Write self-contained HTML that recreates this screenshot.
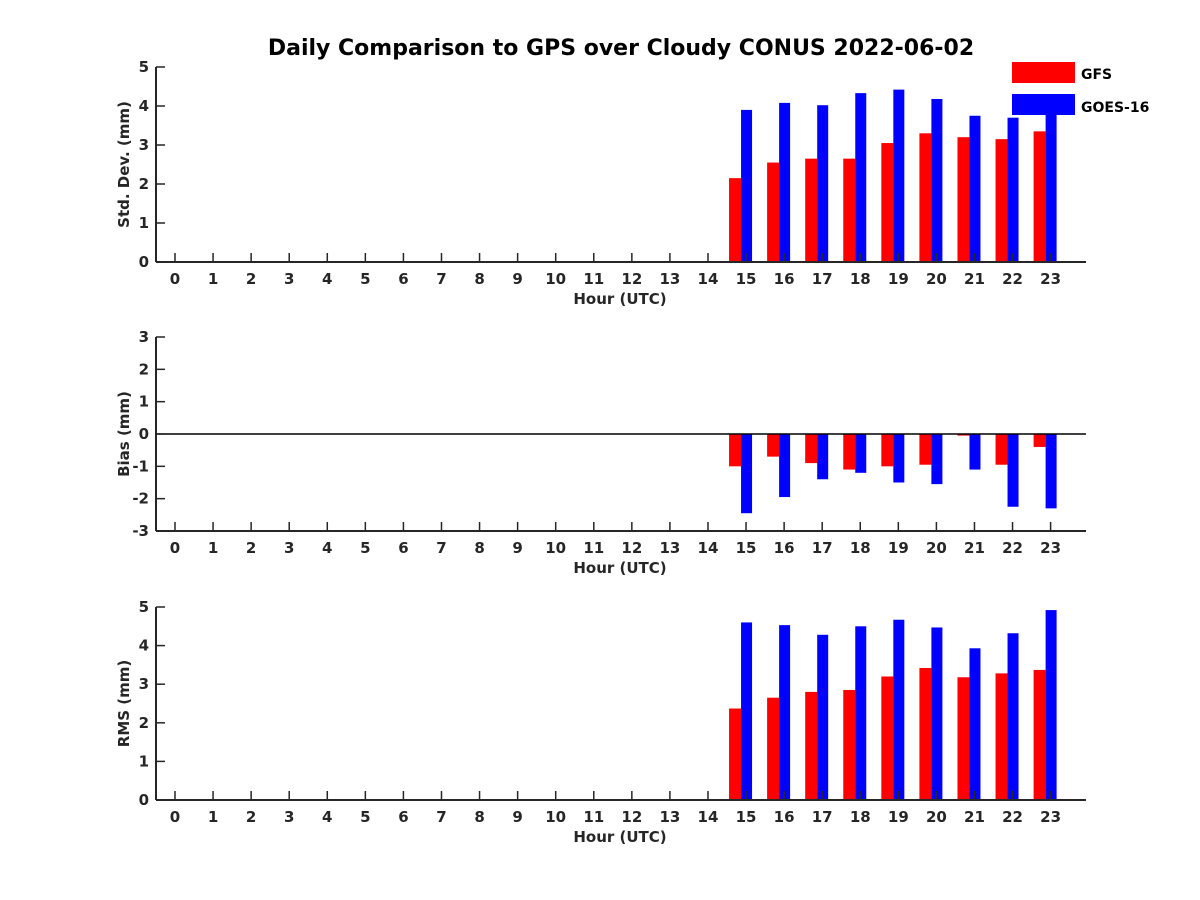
<!DOCTYPE html>
<html><head><meta charset="utf-8"><style>body{margin:0;background:#fff}svg{display:block;font-family:"DejaVu Sans","Liberation Sans",sans-serif}</style></head>
<body>
<svg id="c" width="1200" height="900">
<text x="621" y="55" text-anchor="middle" font-size="22" font-weight="bold" fill="#000">Daily Comparison to GPS over Cloudy CONUS 2022-06-02</text>
</svg>
<script>
const hours=[15,16,17,18,19,20,21,22,23];
const stdGFS=[2.15,2.55,2.65,2.65,3.05,3.3,3.2,3.15,3.35];
const stdGOES=[3.9,4.08,4.02,4.33,4.42,4.18,3.75,3.7,4.3];
const biasGFS=[-1.0,-0.7,-0.9,-1.1,-1.0,-0.95,-0.05,-0.95,-0.4];
const biasGOES=[-2.45,-1.95,-1.4,-1.2,-1.5,-1.55,-1.1,-2.25,-2.3];
const rmsGFS=[2.37,2.65,2.8,2.85,3.2,3.42,3.18,3.28,3.37];
const rmsGOES=[4.6,4.53,4.28,4.5,4.67,4.47,3.93,4.32,4.92];
const xTicks=[...Array(24).keys()];
const stdTicks=[0,1,2,3,4,5],biasTicks=[-3,-2,-1,0,1,2,3],rmsTicks=[0,1,2,3,4,5];
const svg=document.getElementById('c');const NS='http://www.w3.org/2000/svg';
function mk(t,a,p){const e=document.createElementNS(NS,t);for(const k in a)e.setAttribute(k,a[k]);(p||svg).appendChild(e);return e;}
const X=h=>175+h*38.07;
const L=156,R=1086;
function panel(name,top,bot,min,max,ticks,ylab,g1,g2,zeroLine){
  const g=mk('g',{});
  
  
  const Y=v=>bot-(v-min)/(max-min)*(bot-top);
  const base=zeroLine?Y(0):bot;
  hours.forEach((h,i)=>{
    const y1=Y(g1[i]);const r=mk('rect',{x:X(h)-17,y:Math.min(y1,base),width:12,height:Math.abs(base-y1),fill:'#ff0000'},g);
    
    
    const y2=Y(g2[i]);const b=mk('rect',{x:X(h)-5,y:Math.min(y2,base),width:11,height:Math.abs(base-y2),fill:'#0000ff'},g);
    
    
  });
  mk('line',{x1:L,y1:bot,x2:R,y2:bot,stroke:'#262626','stroke-width':2},g);
  mk('line',{x1:L,y1:top,x2:L,y2:bot,stroke:'#262626','stroke-width':2},g);
  if(zeroLine)mk('line',{x1:L,y1:Y(0),x2:R,y2:Y(0),stroke:'#000','stroke-width':1.5},g);
  xTicks.forEach(h=>{
    mk('line',{x1:X(h),y1:bot,x2:X(h),y2:bot-9,stroke:'#262626','stroke-width':1.5},g);
    const t=mk('text',{x:X(h),y:bot+22,'text-anchor':'middle','font-size':15,'font-weight':'bold',fill:'#262626'},g);t.textContent=h;
  });
  ticks.forEach(v=>{
    mk('line',{x1:L,y1:Y(v),x2:L+9,y2:Y(v),stroke:'#262626','stroke-width':1.5},g);
    const t=mk('text',{x:L-7,y:Y(v)+5,'text-anchor':'end','font-size':15,'font-weight':'bold',fill:'#262626'},g);t.textContent=v;
  });
  const xl=mk('text',{x:620,y:bot+42,'text-anchor':'middle','font-size':15,'font-weight':'bold',fill:'#262626'},g);xl.textContent='Hour (UTC)';
  const cy=(top+bot)/2;
  const yl=mk('text',{x:0,y:0,transform:`translate(129,${cy}) rotate(-90)`,'text-anchor':'middle','font-size':15,'font-weight':'bold',fill:'#262626'},g);yl.textContent=ylab;
}
panel('std',67,262,0,5,stdTicks,'Std. Dev. (mm)',stdGFS,stdGOES,false);
panel('bias',337,531,-3,3,biasTicks,'Bias (mm)',biasGFS,biasGOES,true);
panel('rms',607,800,0,5,rmsTicks,'RMS (mm)',rmsGFS,rmsGOES,false);
const lg=mk('g',{});


mk('rect',{x:1012,y:62,width:63,height:21,fill:'#ff0000'},lg);
mk('rect',{x:1012,y:94,width:63,height:21,fill:'#0000ff'},lg);
const t1=mk('text',{x:1081,y:79,'font-size':14,'font-weight':'bold',fill:'#000'},lg);t1.textContent='GFS';
const t2=mk('text',{x:1081,y:112,'font-size':14,'font-weight':'bold',fill:'#000'},lg);t2.textContent='GOES-16';
</script>
</body></html>
